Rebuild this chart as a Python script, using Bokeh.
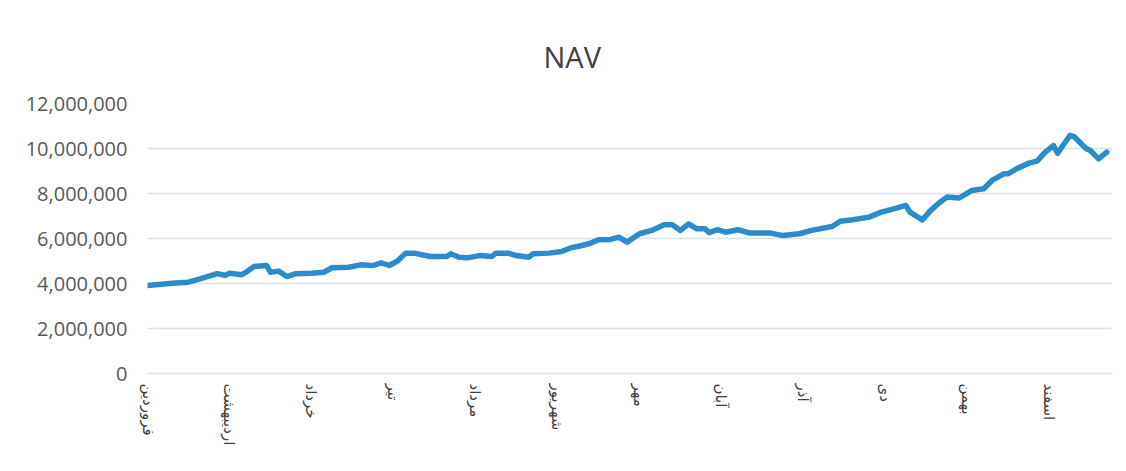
from bokeh.plotting import figure
from bokeh.models import FixedTicker, NumeralTickFormatter, Title, Range1d
from bokeh.embed import file_html
from bokeh.resources import INLINE

# Trading-day index (approx.) and NAV values
day = [0, 6, 10, 13, 15, 17, 19, 20, 23, 24, 26, 29, 30, 32, 34, 36, 40, 43, 45, 49,
       52, 55, 57, 59, 61, 63, 65, 69, 73, 74, 76, 78, 81, 84, 85, 88, 90, 93, 94, 98,
       101, 103, 106, 108, 110, 113, 115, 117, 120, 123, 126, 128, 130, 132, 134, 136, 137, 139,
       141, 144, 147, 152, 155, 159, 162, 167, 169, 172, 176, 179, 182, 185, 186, 189,
       191, 193, 195, 198, 201, 204, 206, 209, 210, 212, 215, 217, 219, 221, 222, 225,
       226, 229, 230, 232, 233, 234]
nav = [3.91, 4.01, 4.06, 4.22, 4.33, 4.44, 4.36, 4.46, 4.39, 4.50, 4.76, 4.80, 4.50, 4.55, 4.31, 4.43, 4.46, 4.50, 4.70, 4.72,
       4.83, 4.80, 4.92, 4.80, 5.00, 5.35, 5.35, 5.20, 5.20, 5.32, 5.17, 5.14, 5.24, 5.20, 5.35, 5.35, 5.24, 5.17, 5.32, 5.35,
       5.42, 5.57, 5.69, 5.79, 5.94, 5.96, 6.06, 5.84, 6.21, 6.36, 6.61, 6.61, 6.36, 6.65, 6.43, 6.43, 6.26, 6.39,
       6.28, 6.39, 6.24, 6.24, 6.13, 6.21, 6.36, 6.53, 6.77, 6.83, 6.95, 7.17, 7.32, 7.47, 7.17, 6.83,
       7.24, 7.57, 7.84, 7.80, 8.13, 8.21, 8.58, 8.88, 8.88, 9.10, 9.35, 9.44, 9.84, 10.13, 9.79, 10.58,
       10.53, 9.99, 9.91, 9.54, 9.69, 9.84]
nav = [v * 1_000_000 for v in nav]

month_ticks = [0, 20, 40, 60, 80, 100, 120, 140, 160, 180, 200, 220]
month_labels = ["فروردین", "اردیبهشت", "خرداد", "تیر", "مرداد", "شهریور",
                "مهر", "آبان", "آذر", "دی", "بهمن", "اسفند"]
y_ticks = [0, 2_000_000, 4_000_000, 6_000_000, 8_000_000, 10_000_000, 12_000_000]

p = figure(width=1126, height=471, output_backend="svg", toolbar_location=None,
           x_range=Range1d(0, 235.4), y_range=Range1d(0, 12_000_000),
           min_border_left=147, min_border_right=14, min_border_top=103, min_border_bottom=98)
p.title = None
p.add_layout(Title(text="NAV", text_font="Open Sans", text_font_size="29px",
                   text_font_style="normal", text_color="#404040", align="left",
                   offset=396, standoff=56), "above")

p.line(day, nav, line_color="#2b8ccc", line_width=5.5, line_join="round", line_cap="round")

p.outline_line_color = None
p.background_fill_color = "white"
p.border_fill_color = "white"

p.xgrid.grid_line_color = None
p.ygrid.grid_line_color = "#dde1e6"
p.ygrid.grid_line_width = 1.5
p.yaxis.ticker = FixedTicker(ticks=y_ticks)
p.yaxis.formatter = NumeralTickFormatter(format="0,0")
p.yaxis.axis_line_color = None
p.yaxis.major_tick_line_color = None
p.yaxis.minor_tick_line_color = None
p.yaxis.major_tick_out = 0
p.yaxis.major_label_standoff = 20
p.yaxis.major_label_text_font = "Open Sans"
p.yaxis.major_label_text_font_size = "20px"
p.yaxis.major_label_text_color = "#595959"

p.xaxis.ticker = FixedTicker(ticks=month_ticks)
p.xaxis.major_label_overrides = {t: l for t, l in zip(month_ticks, month_labels)}
p.xaxis.major_label_orientation = "vertical"
p.xaxis.axis_line_color = "#dde1e6"
p.xaxis.axis_line_width = 1.5
p.xaxis.major_tick_line_color = None
p.xaxis.minor_tick_line_color = None
p.xaxis.major_tick_out = 0
p.xaxis.major_label_standoff = 10
p.xaxis.major_label_text_font = "DejaVu Sans"
p.xaxis.major_label_text_font_size = "15px"
p.xaxis.major_label_text_color = "#404040"

open("out.html", "w").write(file_html(p, INLINE))
